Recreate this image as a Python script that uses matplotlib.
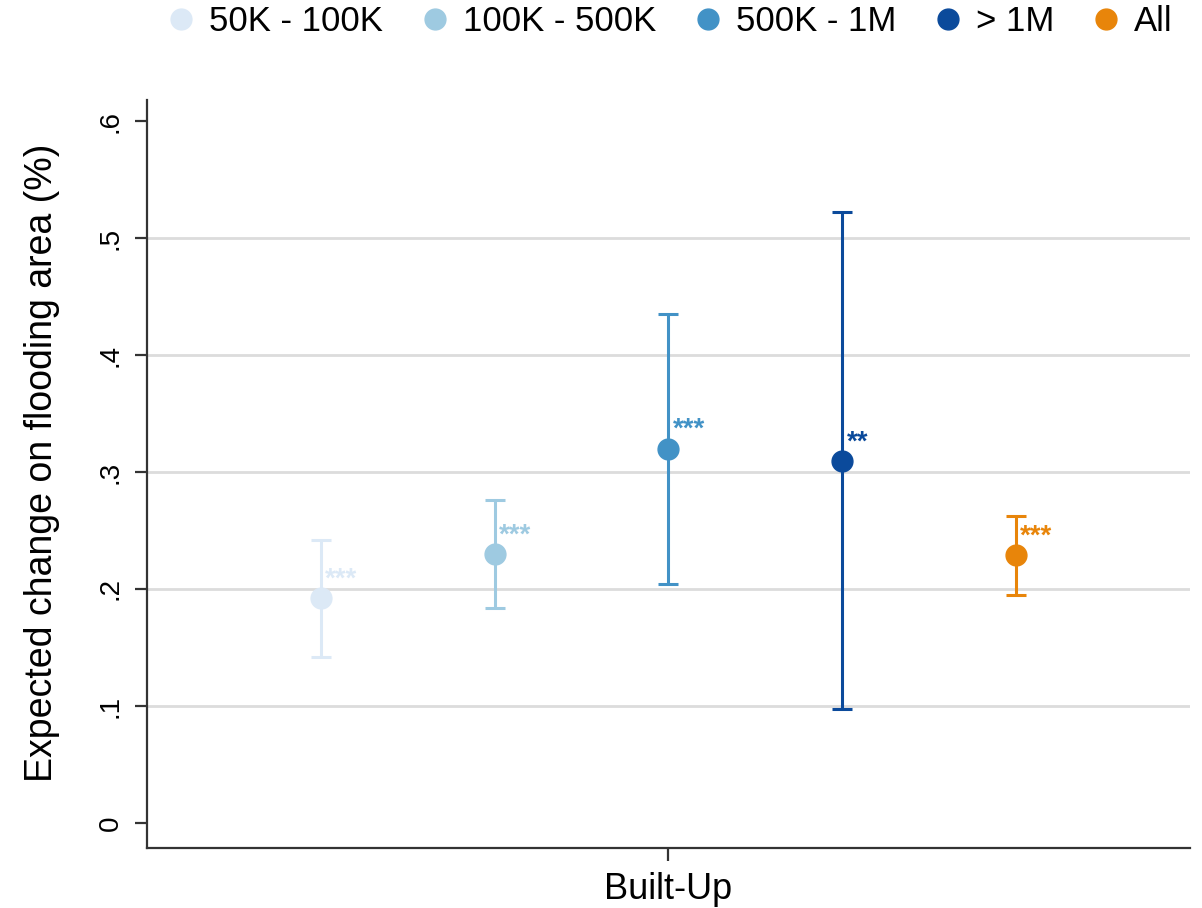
import numpy as np
import matplotlib
matplotlib.use("Agg")
import matplotlib.pyplot as plt
from matplotlib.lines import Line2D

plt.rcParams['font.family'] = ['Liberation Sans', 'DejaVu Sans']

groups = ["50K - 100K", "100K - 500K", "500K - 1M", "> 1M", "All"]
estimates = [0.192, 0.230, 0.320, 0.309, 0.229]
ci_low = [0.142, 0.184, 0.204, 0.097, 0.195]
ci_high = [0.242, 0.276, 0.435, 0.522, 0.262]
stars = ["***", "***", "***", "**", "***"]
colors = ["#dce9f6", "#9ecae1", "#4292c6", "#0b4a9b", "#e8850a"]
category = "Built-Up"

fig = plt.figure(figsize=(12.02, 9.08), dpi=100)
ax = fig.add_axes([0.1223, 0.0661, 0.8677, 0.8238])

offsets = np.arange(len(groups)) - (len(groups) - 1) / 2
handles = []
for i, g in enumerate(groups):
    x = offsets[i]
    y = estimates[i]
    err = [[y - ci_low[i]], [ci_high[i] - y]]
    ax.errorbar([x], [y], yerr=err, fmt='o', color=colors[i], ms=15,
                elinewidth=2.2, capsize=7.5, capthick=2.2, zorder=3)
    ax.annotate(stars[i], (x, y), xytext=(3, 4), textcoords='offset points',
                color=colors[i], fontsize=20, fontweight='bold', va='bottom', ha='left')
    handles.append(Line2D([], [], marker='o', ls='none', color=colors[i], ms=15, label=g))

ax.set_xlim(-3, 3)
ax.set_ylim(-0.0214, 0.618)
ax.set_xticks([0])
ax.set_xticklabels([category], fontsize=26)
yt = [0, 0.1, 0.2, 0.3, 0.4, 0.5, 0.6]
ax.set_yticks(yt)
ax.set_yticklabels(["0", ".1", ".2", ".3", ".4", ".5", ".6"], rotation=90,
                   va='center', fontsize=20)
for v in yt[1:-1]:
    ax.axhline(v, color='#dcdcdc', lw=2, zorder=0)

ax.set_ylabel("Expected change on flooding area (%)", fontsize=27)
ax.yaxis.set_label_coords(-0.083, 0.515)
for s in ['top', 'right']:
    ax.spines[s].set_visible(False)
for s in ['left', 'bottom']:
    ax.spines[s].set_color('#333333')
    ax.spines[s].set_linewidth(1.6)
ax.tick_params(axis='both', length=9, width=1.6, color='#333333', pad=8)

fig.legend(handles=handles, loc='center', bbox_to_anchor=(0.556, 0.976), ncol=5,
           frameon=False, fontsize=25, handletextpad=0.3, columnspacing=1.0,
           handlelength=1.0)

fig.savefig("out.png", dpi=100)
